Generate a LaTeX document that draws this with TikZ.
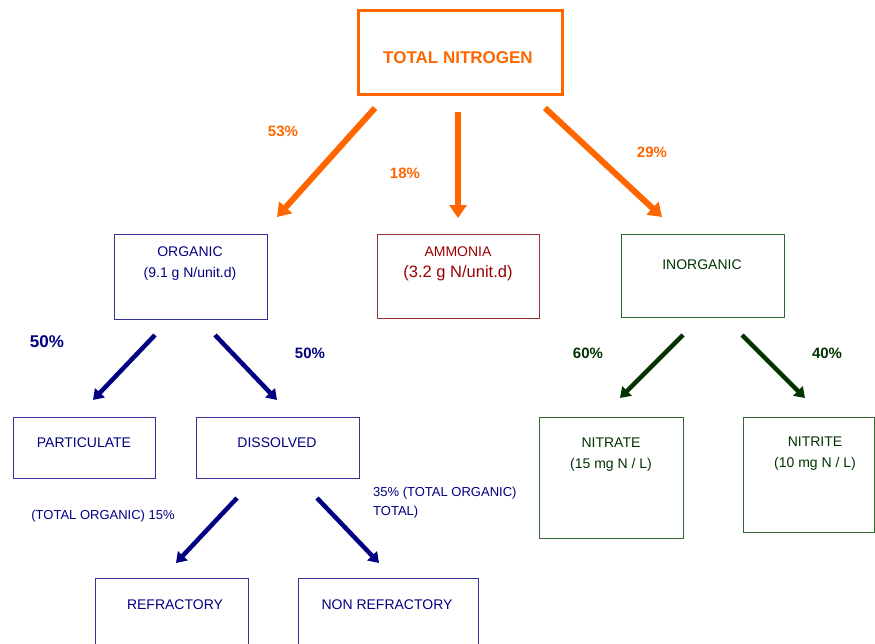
\documentclass[tikz,border=0pt]{standalone}
\usepackage{fontspec}
\setmainfont{Liberation Sans}
\usepackage{tikz}
\usetikzlibrary{positioning,arrows.meta}

\definecolor{nitorange}{HTML}{FF6600}
\definecolor{orgblue}{HTML}{333399}
\definecolor{orgnavy}{HTML}{000080}
\definecolor{ammred}{HTML}{993333}
\definecolor{ammtext}{HTML}{990000}
\definecolor{inogreen}{HTML}{336633}
\definecolor{inodark}{HTML}{003300}

\tikzset{
  nbox/.style={draw, rectangle, inner sep=0pt, anchor=north west, line width=1.4pt},
  boxtext/.style={align=center, inner sep=0pt, font=\fontsize{14}{21}\selectfont},
  pct/.style={inner sep=0pt, font=\fontsize{15}{18}\selectfont\bfseries},
  smalltext/.style={inner sep=0pt, font=\fontsize{13}{19}\selectfont},
  orangearrow/.style={-{Triangle[length=13pt,width=17pt]}, line width=6pt, nitorange},
  bluearrow/.style={-{Triangle[length=10pt,width=13pt]}, line width=4.5pt, orgnavy},
  greenarrow/.style={-{Triangle[length=10pt,width=13pt]}, line width=4.5pt, inodark}
}

\begin{document}
\begin{tikzpicture}[x=1pt,y=-1pt]
  \useasboundingbox (0,0) rectangle (875,643);

  % boxes
  \node[nbox, nitorange, line width=3pt, minimum width=204, minimum height=84] (total) at (357,9) {};
  \node[nbox, orgblue, minimum width=153, minimum height=85] (organic) at (114,234) {};
  \node[nbox, ammred, minimum width=162, minimum height=84] (ammonia) at (377,234) {};
  \node[nbox, inogreen, minimum width=163, minimum height=83] (inorganic) at (621,234) {};
  \node[nbox, orgblue, minimum width=142, minimum height=61] (particulate) at (13,417) {};
  \node[nbox, orgblue, minimum width=163, minimum height=61] (dissolved) at (196,417) {};
  \node[nbox, inogreen, minimum width=144, minimum height=121] (nitrate) at (539,417) {};
  \node[nbox, inogreen, minimum width=131, minimum height=115] (nitrite) at (743,417) {};
  \node[nbox, orgblue, minimum width=153, minimum height=80] (refractory) at (95,578) {};
  \node[nbox, orgblue, minimum width=180, minimum height=80] (nonrefractory) at (298,578) {};

  % box texts
  \node[boxtext, nitorange, font=\fontsize{17}{18}\selectfont\bfseries] (total text) at (458,58) {TOTAL NITROGEN};
  \node[boxtext, orgnavy] (organic text) at (190,264) {ORGANIC\\(9.1 g N/unit.d)};
  \node[boxtext, ammtext] (ammonia text) at (458,264) {AMMONIA\\{\fontsize{16.5}{21}\selectfont(3.2 g N/unit.d)}};
  \node[boxtext, inodark] (inorganic text) at (702,265) {INORGANIC};
  \node[boxtext, orgnavy] (particulate text) at (84,443) {PARTICULATE};
  \node[boxtext, orgnavy] (dissolved text) at (277,443) {DISSOLVED};
  \node[boxtext, inodark] (nitrate text) at (611,455) {NITRATE\\(15 mg N / L)};
  \node[boxtext, inodark] (nitrite text) at (815,454) {NITRITE\\(10 mg N / L)};
  \node[boxtext, orgnavy] (refractory text) at (175,605) {REFRACTORY};
  \node[boxtext, orgnavy] (nonrefractory text) at (387,605) {NON REFRACTORY};

  % arrow ends
  \coordinate (o1) at (375,108);  \coordinate (o2) at (277,217);
  \coordinate (o3) at (458,112);  \coordinate (o4) at (458,218);
  \coordinate (o5) at (545,108);  \coordinate (o6) at (662,217);
  \coordinate (b1) at (155,335);  \coordinate (b2) at (93,400);
  \coordinate (b3) at (215,335);  \coordinate (b4) at (277,400);
  \coordinate (g1) at (683,335);  \coordinate (g2) at (620,398);
  \coordinate (g3) at (742,335);  \coordinate (g4) at (805,398);
  \coordinate (d1) at (237,498);  \coordinate (d2) at (176,563);
  \coordinate (d3) at (317,498);  \coordinate (d4) at (379,563);

  \draw[orangearrow] (o1) -- (o2);
  \draw[orangearrow] (o3) -- (o4);
  \draw[orangearrow] (o5) -- (o6);
  \draw[bluearrow] (b1) -- (b2);
  \draw[bluearrow] (b3) -- (b4);
  \draw[greenarrow] (g1) -- (g2);
  \draw[greenarrow] (g3) -- (g4);
  \draw[bluearrow] (d1) -- (d2);
  \draw[bluearrow] (d3) -- (d4);

  % percentages
  \node[pct, nitorange] (p53) at (283,131) {53\%};
  \node[pct, nitorange] (p18) at (405,173) {18\%};
  \node[pct, nitorange] (p29) at (652,152) {29\%};
  \node[pct, orgnavy, font=\fontsize{17}{18}\selectfont\bfseries] (p50a) at (47,342) {50\%};
  \node[pct, orgnavy] (p50b) at (310,353) {50\%};
  \node[pct, inodark] (p60) at (588,353) {60\%};
  \node[pct, inodark] (p40) at (827,353) {40\%};
  \node[smalltext, orgnavy] (p15) at (103,516) {(TOTAL ORGANIC) 15\%};
  \node[smalltext, orgnavy, align=left, anchor=north west] (p35) at (373,487) {35\% (TOTAL ORGANIC)\\TOTAL)};
\end{tikzpicture}
\end{document}
